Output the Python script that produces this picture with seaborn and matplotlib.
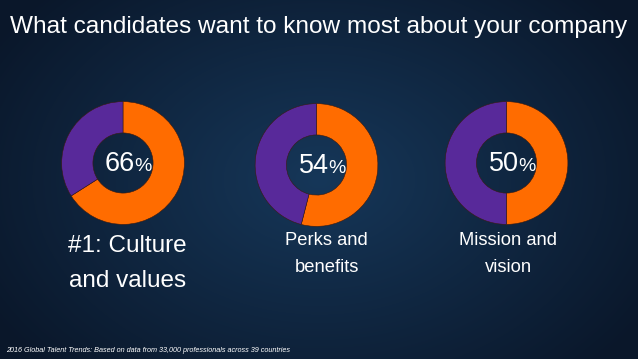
import numpy as np
import matplotlib
matplotlib.use("Agg")
import matplotlib.pyplot as plt
import seaborn as sns

# ------------------------------------------------------------------ #
# Data
# ------------------------------------------------------------------ #
title = "What candidates want to know most about your company"
values = [66, 54, 50]
labels = ["#1: Culture\nand values", "Perks and\nbenefits", "Mission and\nvision"]
footer = "2016 Global Talent Trends: Based on data from 33,000 professionals across 39 countries"

# ------------------------------------------------------------------ #
# Style
# ------------------------------------------------------------------ #
sns.set_theme(style="dark")
plt.rcParams["font.family"] = ["Liberation Sans", "DejaVu Sans"]

ORANGE = "#ff6c00"
PURPLE = "#58299a"
W, H = 638, 359

centers = [(123, 163), (316.5, 165), (506.5, 163)]
radius = 62
label_y = [263.5, 254, 254]
label_size = [17.5, 13.2, 13.2]
label_dx = [4.5, 10, 1.5]


def fx(x):
    return x / W


def fy(y):
    return 1 - y / H


fig = plt.figure(figsize=(W / 100, H / 100), dpi=100)

# background radial gradient
bg = fig.add_axes([0, 0, 1, 1])
yy, xx = np.mgrid[0:H, 0:W]
d = np.sqrt(((xx - W * 0.5) / (W * 0.6)) ** 2 + ((yy - H * 0.5) / (H * 0.75)) ** 2)
d = np.clip(d, 0, 1)
c_in = np.array([0x16, 0x37, 0x59]) / 255
c_out = np.array([0x0a, 0x17, 0x2a]) / 255
img = c_in[None, None, :] * (1 - d[..., None]) + c_out[None, None, :] * d[..., None]
bg.imshow(img, aspect="auto", extent=[0, W, H, 0])
bg.set_axis_off()

fig.text(fx(10), fy(26.5), title, color="white", fontsize=17.6,
         ha="left", va="center")

for (cx, cy), val, lab, ly, ls, dx in zip(centers, values, labels,
                                          label_y, label_size, label_dx):
    ax = fig.add_axes([fx(cx - radius), fy(cy + radius),
                       2 * radius / W, 2 * radius / H])
    ax.pie([val, 100 - val], colors=[ORANGE, PURPLE], startangle=90,
           counterclock=False, radius=1,
           wedgeprops=dict(width=0.51, edgecolor="#3a1a10", linewidth=0.4))
    ax.set_xlim(-1.01, 1.01)
    ax.set_ylim(-1.01, 1.01)
    ax.set_axis_off()

    fig.text(fx(cx + 12), fy(cy + 8), f"{val}", color="white",
             fontsize=19.5, ha="right", va="baseline")
    fig.text(fx(cx + 11.5), fy(cy + 8), "%", color="white",
             fontsize=14, ha="left", va="baseline")

    fig.text(fx(cx + dx), fy(ly), lab, color="white", fontsize=ls,
             ha="center", va="center", linespacing=1.78)

fig.text(fx(6), fy(350), footer, color="white", fontsize=5.2,
         style="italic", ha="left", va="center")

fig.savefig("out.png", dpi=100)
